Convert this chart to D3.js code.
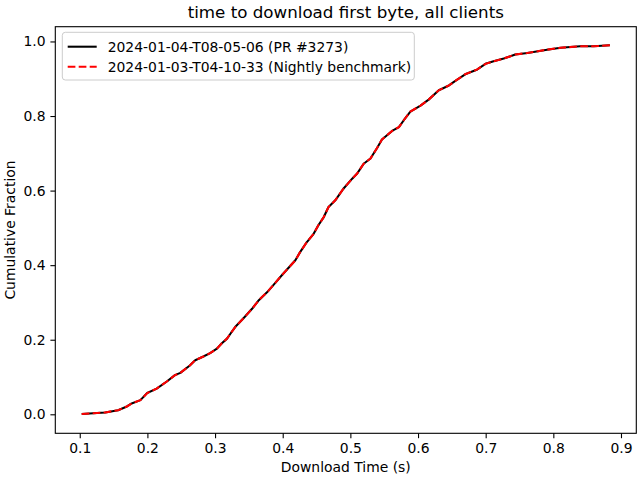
<!DOCTYPE html>
<html>
<head>
<meta charset="utf-8">
<script src="https://cdn.jsdelivr.net/npm/d3@7"></script>
<style>
  body { margin: 0; background: #fff; }
  svg { display: block; font-family: "DejaVu Sans", sans-serif; }
</style>
</head>
<body>
<div id="chart"></div>
<script>
// CDF points (download time in s, cumulative fraction)
const prTimes = [0.1029, 0.1202, 0.1377, 0.1567, 0.1697, 0.1767, 0.1897, 0.1997, 0.2137, 0.2287, 0.2407, 0.2487,
  0.2627, 0.2707, 0.2827, 0.2927, 0.3027, 0.3097, 0.3177, 0.3227, 0.3297, 0.3417, 0.3547, 0.3647, 0.3787, 0.3887,
  0.3987, 0.4107, 0.4187, 0.4257, 0.4357, 0.4457, 0.4527, 0.4607, 0.4677, 0.4777, 0.4897, 0.5027, 0.5097, 0.5197,
  0.5297, 0.5397, 0.5467, 0.5617, 0.5717, 0.5787, 0.5887, 0.6037, 0.6157, 0.6307, 0.6457, 0.6557, 0.6697, 0.6877,
  0.6997, 0.7117, 0.7267, 0.7437, 0.7617, 0.7907, 0.8107, 0.8397, 0.8597, 0.8836];
const prFrac = [0.001, 0.003, 0.005, 0.011, 0.021, 0.029, 0.038, 0.057, 0.069, 0.088, 0.105, 0.111,
  0.131, 0.145, 0.155, 0.164, 0.176, 0.190, 0.203, 0.216, 0.234, 0.257, 0.283, 0.306, 0.331, 0.352,
  0.373, 0.397, 0.413, 0.435, 0.462, 0.484, 0.507, 0.529, 0.556, 0.574, 0.605, 0.632, 0.645, 0.672,
  0.686, 0.715, 0.737, 0.760, 0.770, 0.788, 0.812, 0.828, 0.844, 0.869, 0.882, 0.895, 0.912, 0.925,
  0.940, 0.947, 0.954, 0.965, 0.969, 0.978, 0.983, 0.987, 0.987, 0.990];

// the nightly run sits right on top of the PR run
const nightlyTimes = prTimes.slice();
const nightlyFrac = prFrac.slice();

const xTicks = [0.1, 0.2, 0.3, 0.4, 0.5, 0.6, 0.7, 0.8, 0.9];
const yTicks = [0.0, 0.2, 0.4, 0.6, 0.8, 1.0];
const seriesNames = ["2024-01-04-T08-05-06 (PR #3273)", "2024-01-03-T04-10-33 (Nightly benchmark)"];
const seriesColors = ["#000000", "#ff0000"];

const width = 640, height = 480;
const margin = {left: 55.3, right: 3.7, top: 26.7, bottom: 46.7};

const svg = d3.select("#chart").append("svg")
    .attr("width", width)
    .attr("height", height);

// matplotlib style 5% margins
const xMin = d3.min(prTimes), xMax = d3.max(prTimes);
const yMin = -0.0014, yMax = d3.max(prFrac);
const xPad = (xMax - xMin) * 0.05, yPad = (yMax - yMin) * 0.05;

const x = d3.scaleLinear()
    .domain([xMin - xPad, xMax + xPad])
    .range([margin.left, width - margin.right]);

const y = d3.scaleLinear()
    .domain([yMin - yPad, yMax + yPad])
    .range([height - margin.bottom, margin.top]);

const tickFont = "13.9px";
const lw = 2.08;
const dash = "7.7,3.3";

svg.append("g")
    .attr("transform", `translate(0,${height - margin.bottom})`)
    .call(d3.axisBottom(x).tickValues(xTicks).tickFormat(d3.format(".1f")).tickSizeOuter(0).tickSize(4.9).tickPadding(4.9))
    .call(g => g.select(".domain").remove())
    .call(g => g.selectAll("line").attr("stroke-width", 1.1))
    .selectAll("text").attr("font-size", tickFont).attr("fill", "#000").attr("font-family", "DejaVu Sans");

svg.append("g")
    .attr("transform", `translate(${margin.left},0)`)
    .call(d3.axisLeft(y).tickValues(yTicks).tickFormat(d3.format(".1f")).tickSizeOuter(0).tickSize(4.9).tickPadding(4.9))
    .call(g => g.select(".domain").remove())
    .call(g => g.selectAll("line").attr("stroke-width", 1.1))
    .selectAll("text").attr("font-size", tickFont).attr("fill", "#000").attr("font-family", "DejaVu Sans");

const line = d3.line()
    .x(d => x(d[0]))
    .y(d => y(d[1]));

svg.append("path")
    .datum(d3.zip(prTimes, prFrac))
    .attr("d", line)
    .attr("fill", "none")
    .attr("stroke", seriesColors[0])
    .attr("stroke-width", lw)
    .attr("stroke-linejoin", "round");

svg.append("path")
    .datum(d3.zip(nightlyTimes, nightlyFrac))
    .attr("d", line)
    .attr("fill", "none")
    .attr("stroke", seriesColors[1])
    .attr("stroke-width", lw)
    .attr("stroke-dasharray", dash);

// axes frame
svg.append("rect")
    .attr("x", margin.left)
    .attr("y", margin.top)
    .attr("width", width - margin.left - margin.right)
    .attr("height", height - margin.top - margin.bottom)
    .attr("fill", "none")
    .attr("stroke", "#000")
    .attr("stroke-width", 1.1);

// legend
const legend = svg.append("g").attr("transform", `translate(62.3,32.3)`);
legend.append("rect")
    .attr("width", 352)
    .attr("height", 47.7)
    .attr("rx", 3)
    .attr("fill", "#fff")
    .attr("fill-opacity", 0.8)
    .attr("stroke", "#cccccc");

seriesNames.forEach((name, i) => {
    const row = legend.append("g").attr("transform", `translate(0,${14.4 + i * 20})`);
    row.append("line")
        .attr("x1", 5.4).attr("x2", 34.4)
        .attr("stroke", seriesColors[i])
        .attr("stroke-width", lw)
        .attr("stroke-dasharray", i === 1 ? dash : null);
    row.append("text")
        .attr("x", 45.4)
        .attr("dy", "0.35em")
        .attr("font-size", tickFont)
        .text(name);
});

svg.append("text")
    .attr("x", (margin.left + width - margin.right) / 2)
    .attr("y", 18)
    .attr("text-anchor", "middle")
    .attr("font-size", "16.7px")
    .text("time to download first byte, all clients");

svg.append("text")
    .attr("x", (margin.left + width - margin.right) / 2)
    .attr("y", 472)
    .attr("text-anchor", "middle")
    .attr("font-size", tickFont)
    .text("Download Time (s)");

svg.append("text")
    .attr("transform", `translate(15,${(margin.top + height - margin.bottom) / 2}) rotate(-90)`)
    .attr("text-anchor", "middle")
    .attr("font-size", tickFont)
    .text("Cumulative Fraction");
</script>
</body>
</html>
